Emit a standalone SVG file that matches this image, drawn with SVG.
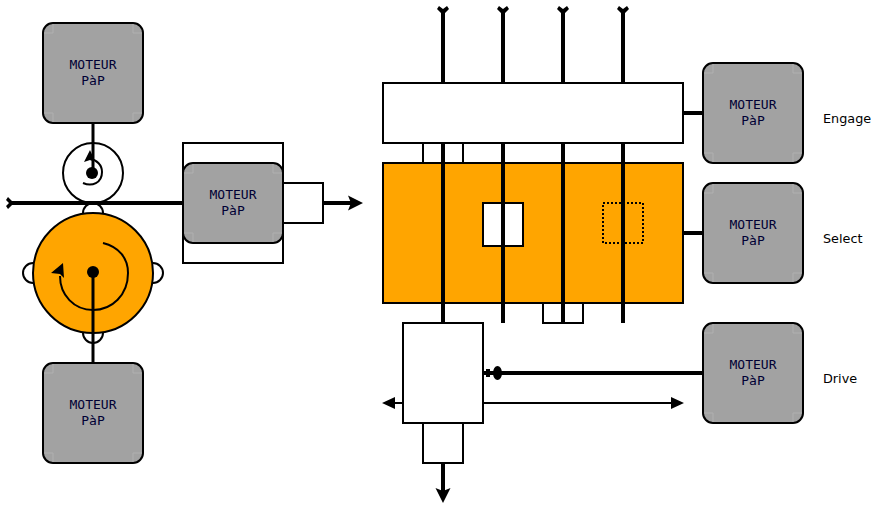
<svg xmlns="http://www.w3.org/2000/svg" width="871" height="507" viewBox="0 0 871 507">
<style>
.w{fill:#fff;stroke:#000;stroke-width:2}
.o{fill:#ffa500;stroke:#000;stroke-width:2}
.m{fill:#a2a2a2;stroke:#000;stroke-width:2}
.c{fill:none;stroke:#b0b0b0;stroke-width:1}
.l3{fill:none;stroke:#000;stroke-width:3}
.l4{fill:none;stroke:#000;stroke-width:4}
.l2{fill:none;stroke:#000;stroke-width:2}
.t{font-family:"DejaVu Sans",sans-serif;font-size:12.800px;fill:#000}
.mt{font-family:"DejaVu Sans Mono",monospace;font-size:13px;fill:#000034;text-anchor:middle}
</style>
<defs>
<g id="motor-body">
<rect class="m" x="0" y="0" width="100" height="100" rx="10" ry="10"/>
<path class="c" d="M10 1V10H1M90 1V10H99M10 99V90H1M90 99V90H99"/>
</g>
<g id="motor-label">
<text class="mt" x="50" y="0">MOTEUR</text>
<text class="mt" x="50" y="16">PàP</text>
</g>
</defs>

<g id="rollers">
<circle class="w" cx="93" cy="213" r="10"/>
<circle class="w" cx="93" cy="333" r="10"/>
<circle class="w" cx="33" cy="273" r="10"/>
<circle class="w" cx="153" cy="273" r="10"/>
<circle id="petit-rouleau" class="w" cx="93" cy="173" r="30"/>
<circle id="grand-rouleau" class="o" cx="93" cy="273" r="60"/>
<circle cx="92" cy="173" r="6" fill="#000"/>
<circle cx="93" cy="272" r="6" fill="#000"/>
</g>

<g id="connectors">
<path class="l4" d="M10 203H183"/>
<path d="M6 200L8 197L14 203L8 209L6 206L9 203Z" fill="#000"/>
<path class="l3" d="M93 123V173"/>
<path class="l3" d="M93 272V363"/>
<path class="l2" d="M83 183C92 187 102 183 102 172C102 165 97 160 90 159"/>
<path d="M90 150L84 162L90 160L95 161Z" fill="#000"/>
<path class="l2" d="M103 243C119 247 128 258 128 273C128 295 112 310 93 310C74 310 60 295 60 276"/>
<path d="M63 263L51 273L60 274L64 278Z" fill="#000"/>
<path class="l4" d="M323 203H353"/>
<path d="M363 203L348 195.500L351 203L348 210.500Z" fill="#000"/>
<path class="l4" d="M443 10V83M503 10V83M563 10V83M623 10V83"/>
<path d="M437 9L439 6L443 9L447 6L449 9L443 15ZM497 9L499 6L503 9L507 6L509 9L503 15ZM557 9L559 6L563 9L567 6L569 9L563 15ZM617 9L619 6L623 9L627 6L629 9L623 15Z" fill="#000"/>
<path class="l4" d="M683 113H703M683 233H703"/>
</g>

<g id="boite-engage">
<rect class="w" x="423" y="143" width="40" height="20"/>
<rect class="w" x="383" y="83" width="300" height="60"/>
</g>
<g id="boite-select">
<rect class="o" x="383" y="163" width="300" height="140"/>
<rect class="w" x="483" y="203" width="40" height="43"/>
<rect x="603" y="203" width="40" height="40" fill="none" stroke="#000" stroke-width="2" stroke-dasharray="2 2"/>
<rect class="w" x="543" y="303" width="40" height="20"/>
</g>
<g id="tiges">
<path class="l4" d="M443 143V323M563 143V323M623 143V323M503 143V323"/>
</g>
<g id="boite-drive">
<rect class="w" x="423" y="423" width="40" height="40"/>
<rect class="w" x="403" y="323" width="80" height="100"/>
<path class="l4" d="M483 373H703"/>
<path class="l4" d="M443 463V492"/>
<path d="M443 503L435.500 488L443 491L450.500 488Z" fill="#000"/>
<path class="l2" d="M393 403H403M483 403H673"/>
<path d="M382 403L395 397V409Z M684 403L671 397V409Z" fill="#000"/>
<rect x="486" y="369" width="4" height="8" fill="#000"/>
<ellipse cx="497.500" cy="373" rx="4.500" ry="7" fill="#000"/>
</g>

<g id="moteur-papier-haut"><use href="#motor-body" x="43" y="23"/><use href="#motor-label" x="43" y="69"/></g>
<g id="moteur-papier-bas"><use href="#motor-body" x="43" y="363"/><use href="#motor-label" x="43" y="409"/></g>
<g id="moteur-sortie">
<rect class="w" x="183" y="143" width="100" height="120"/>
<rect class="w" x="283" y="183" width="40" height="40"/>
<rect class="m" x="183" y="163" width="100" height="80" rx="10" ry="10"/>
<path class="c" d="M193 164V173H184M273 164V173H282M193 242V233H184M273 242V233H282"/>
<use href="#motor-label" x="183" y="199"/>
</g>
<g id="moteur-engage"><use href="#motor-body" x="703" y="63"/><use href="#motor-label" x="703" y="109"/><text class="t" x="823" y="123">Engage</text></g>
<g id="moteur-select"><use href="#motor-body" x="703" y="183"/><use href="#motor-label" x="703" y="229"/><text class="t" x="823" y="243">Select</text></g>
<g id="moteur-drive"><use href="#motor-body" x="703" y="323"/><use href="#motor-label" x="703" y="369"/><text class="t" x="823" y="383">Drive</text></g>
</svg>
